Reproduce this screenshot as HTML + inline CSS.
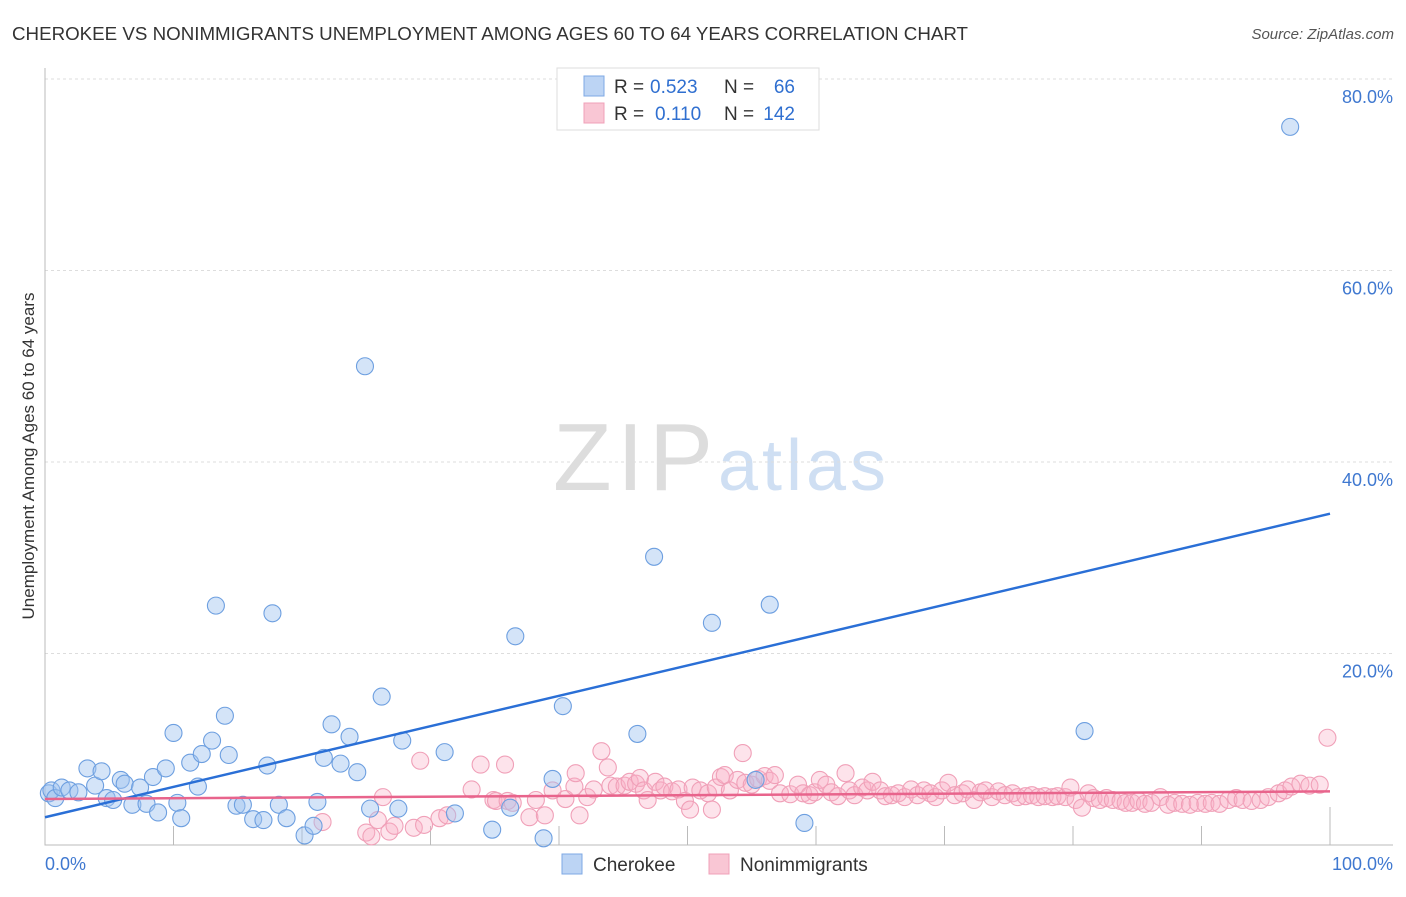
<!DOCTYPE html>
<html><head><meta charset="utf-8"><style>
body{margin:0;background:#fff;font-family:"Liberation Sans",sans-serif}
svg text{font-family:"Liberation Sans",sans-serif}
</style></head><body>
<svg id="c" width="1406" height="892" xmlns="http://www.w3.org/2000/svg">
<text x="12" y="40" font-size="18" fill="#333" textLength="956" lengthAdjust="spacingAndGlyphs">CHEROKEE VS NONIMMIGRANTS UNEMPLOYMENT AMONG AGES 60 TO 64 YEARS CORRELATION CHART</text>
<text x="1394" y="39" font-size="15" fill="#555" text-anchor="end" font-style="italic">Source: ZipAtlas.com</text>
<g>
<text x="553" y="490" font-size="96" fill="#ddd" font-family="Liberation Serif, serif" textLength="160">ZIP</text>
<text x="718" y="490" font-size="72" fill="#cfdff3" textLength="168">atlas</text>
</g>
<g id="grid"></g><g id="axes"></g><g id="pts"></g><g id="lines"></g>
<text transform="translate(34,456) rotate(-90)" font-size="17" fill="#333" text-anchor="middle">Unemployment Among Ages 60 to 64 years</text>
<g>
<rect x="557" y="68" width="262" height="62" fill="#fff" stroke="#ddd"/>
<rect x="584" y="76" width="20" height="20" fill="#bcd4f4" stroke="#7ea8e4"/>
<rect x="584" y="103" width="20" height="20" fill="#f9c6d4" stroke="#f0a0b8"/>
<text x="614" y="93" font-size="19" fill="#333">R =</text>
<text x="650" y="93" font-size="19" fill="#2f6fd0">0.523</text>
<text x="724" y="93" font-size="19" fill="#333">N =</text>
<text x="795" y="93" font-size="19" fill="#2f6fd0" text-anchor="end">66</text>
<text x="614" y="120" font-size="19" fill="#333">R =</text>
<text x="655" y="120" font-size="19" fill="#2f6fd0">0.110</text>
<text x="724" y="120" font-size="19" fill="#333">N =</text>
<text x="795" y="120" font-size="19" fill="#2f6fd0" text-anchor="end">142</text>
</g>
<g>
<rect x="562" y="854" width="20" height="20" fill="#bcd4f4" stroke="#7ea8e4"/>
<text x="593" y="871" font-size="19" fill="#333">Cherokee</text>
<rect x="709" y="854" width="20" height="20" fill="#f9c6d4" stroke="#f0a0b8"/>
<text x="740" y="871" font-size="19" fill="#333">Nonimmigrants</text>
</g>
</svg>
<script>
const yTicks=[20,40,60,80];
const yTickLabels=["20.0%","40.0%","60.0%","80.0%"];
const xTickLabels=["0.0%","100.0%"];
const blueX=[0.3,0.5,0.8,1.3,1.9,2.6,3.3,3.9,4.4,4.8,5.3,5.9,6.2,6.8,7.4,7.9,8.4,8.8,9.4,10.0,10.3,10.6,11.3,11.9,12.2,13.0,13.3,14.0,14.3,14.9,15.4,16.2,17.0,17.3,17.7,18.2,18.8,20.2,20.9,21.2,21.7,22.3,23.0,23.7,24.3,24.9,25.3,26.2,27.5,27.8,31.1,31.9,34.8,36.2,36.6,38.8,39.5,40.3,46.1,47.4,51.9,55.3,56.4,59.1,80.9,96.9];
const blueY=[5.4,5.7,4.9,6.0,5.7,5.5,8.0,6.2,7.7,4.9,4.7,6.8,6.4,4.2,6.0,4.3,7.1,3.4,8.0,11.7,4.4,2.8,8.6,6.1,9.5,10.9,25.0,13.5,9.4,4.1,4.2,2.7,2.6,8.3,24.2,4.2,2.8,1.0,2.0,4.5,9.1,12.6,8.5,11.3,7.6,50.0,3.8,15.5,3.8,10.9,9.7,3.3,1.6,3.9,21.8,0.7,6.9,14.5,11.6,30.1,23.2,6.8,25.1,2.3,11.9,75.0];
const pinkX=[21.6,25.0,25.4,25.9,26.3,26.8,27.2,28.7,29.2,29.5,30.7,31.3,33.2,33.9,34.9,35.1,35.8,36.0,36.4,37.7,38.2,38.9,39.5,40.5,41.2,41.3,41.6,42.2,42.7,43.3,43.8,44.0,44.5,45.1,45.5,46.0,46.3,46.6,46.9,47.5,47.9,48.2,48.8,49.3,49.8,50.2,50.4,51.0,51.6,51.9,52.2,52.6,52.9,53.3,53.9,54.3,54.5,55.0,55.5,56.0,56.4,56.8,57.2,58.0,58.6,59.0,59.5,59.9,60.3,60.8,61.2,61.7,62.3,62.6,63.0,63.6,64.0,64.4,65.0,65.4,65.9,66.4,66.9,67.4,67.9,68.4,68.9,69.3,69.8,70.3,70.8,71.4,71.8,72.3,72.8,73.2,73.7,74.2,74.7,75.3,75.7,76.3,76.8,77.3,77.8,78.4,78.8,79.4,79.8,80.2,80.7,81.2,81.6,82.1,82.6,83.1,83.7,84.1,84.6,85.1,85.6,86.1,86.8,87.4,87.9,88.5,89.1,89.7,90.3,90.8,91.4,92.1,92.7,93.2,93.9,94.6,95.2,96.0,96.5,97.0,97.7,98.4,99.2,99.8];
const pinkY=[2.4,1.3,0.9,2.6,5.0,1.4,2.0,1.8,8.8,2.1,2.8,3.1,5.8,8.4,4.7,4.6,8.4,4.6,4.4,2.9,4.7,3.1,5.7,4.8,6.1,7.5,3.1,5.0,5.8,9.8,8.1,6.2,6.1,6.2,6.6,6.4,7.0,5.7,4.7,6.6,5.7,6.1,5.6,5.8,4.6,3.7,6.0,5.7,5.4,3.7,6.0,7.1,7.3,5.7,6.8,9.6,6.5,6.3,6.9,7.2,6.7,7.3,5.4,5.3,6.3,5.4,5.2,5.5,6.8,6.3,5.5,5.1,7.5,5.7,5.2,6.0,5.7,6.6,5.7,5.1,5.2,5.4,5.0,5.8,5.2,5.7,5.4,5.0,5.7,6.5,5.2,5.4,5.8,4.7,5.5,5.7,5.0,5.6,5.2,5.4,5.0,5.1,5.2,5.0,5.1,5.0,5.1,5.0,6.0,4.7,3.9,5.4,4.9,4.7,4.9,4.7,4.6,4.4,4.4,4.6,4.3,4.4,5.0,4.2,4.4,4.3,4.2,4.4,4.3,4.4,4.3,4.7,4.9,4.7,4.6,4.7,5.0,5.4,5.7,6.1,6.4,6.2,6.3,11.2];
const blueTrend=[2.9,34.6];
const pinkTrend=[4.8,5.6];
const NS="http://www.w3.org/2000/svg";
const X=v=>45+v*12.85, Y=v=>845-v*9.575;
function mk(t,a,p){const e=document.createElementNS(NS,t);for(const k in a)e.setAttribute(k,a[k]);p.appendChild(e);return e;}
const grid=document.getElementById('grid'),axes=document.getElementById('axes'),pts=document.getElementById('pts'),lines=document.getElementById('lines');
yTicks.forEach((t,i)=>{
 const g=mk('line',{x1:45,x2:1393,y1:Y(t),y2:Y(t),stroke:'#ddd','stroke-dasharray':'3,3'},grid);
 
 
 const l=mk('text',{x:1393,y:Y(t)+24,'font-size':18,fill:'#3f78d0','text-anchor':'end'},axes);
 l.textContent=yTickLabels[i];
 
 
});
const ax=mk('path',{d:'M45,68V845H1393',stroke:'#bbb',fill:'none'},axes);


for(let i=1;i<=10;i++){
 const t=mk('line',{x1:X(i*10),x2:X(i*10),y1:i==10?807:826,y2:845,stroke:'#bbb'},axes);
 
 
}
[[0,'start',45],[100,'end',1393]].forEach((d,i)=>{
 const l=mk('text',{x:d[2],y:870,'font-size':18,fill:'#3f78d0','text-anchor':d[1]},axes);
 l.textContent=xTickLabels[i];
 
 
});
pinkX.forEach((x,i)=>{
 const c=mk('circle',{cx:X(x),cy:Y(pinkY[i]),r:8.5,fill:'rgba(248,176,198,0.35)',stroke:'#f0a0b8','stroke-width':1.1},pts);
 
 
});
blueX.forEach((x,i)=>{
 const c=mk('circle',{cx:X(x),cy:Y(blueY[i]),r:8.5,fill:'rgba(160,196,240,0.45)',stroke:'#6d9fe0','stroke-width':1.1},pts);
 
 
});
const bl=mk('line',{x1:X(0),y1:Y(blueTrend[0]),x2:X(100),y2:Y(blueTrend[1]),stroke:'#2a6fd6','stroke-width':2.5},lines);


const pl=mk('line',{x1:X(0),y1:Y(pinkTrend[0]),x2:X(100),y2:Y(pinkTrend[1]),stroke:'#e8648c','stroke-width':2.5},lines);


</script>
</body></html>
